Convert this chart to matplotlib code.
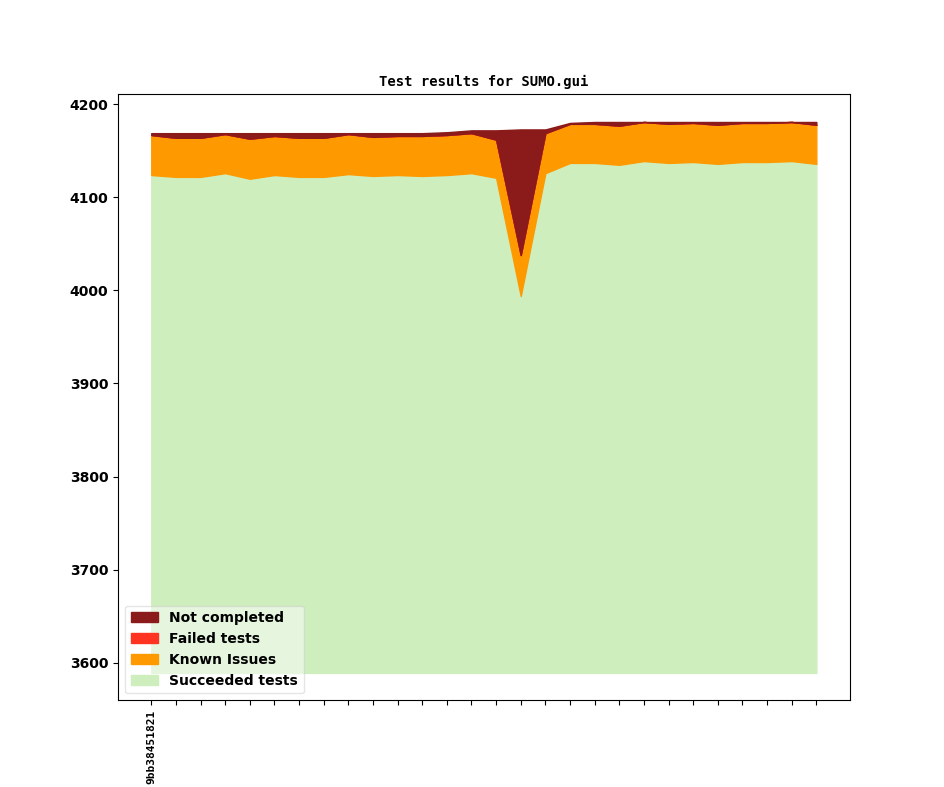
import numpy as np
import matplotlib
matplotlib.use('Agg')
import matplotlib.pyplot as plt

# revisions (only the first one gets a label)
revisions   = ['9bb38451821'] + [''] * 27

# test counts per revision
succeeded   = [4124, 4122, 4122, 4126, 4120, 4124, 4122, 4122, 4125, 4123,
               4124, 4123, 4124, 4126, 4121, 3994, 4126, 4137, 4137, 4135,
               4139, 4137, 4138, 4136, 4138, 4138, 4139, 4136]
known       = [43, 42, 42, 42, 43, 42, 42, 42, 43, 42,
               42, 43, 43, 43, 41, 44, 43, 42, 42, 42,
               42, 42, 42, 42, 42, 42, 42, 42]
failed      = [0] * 28
notdone     = [2, 5, 5, 1, 6, 3, 5, 5, 1, 4,
               3, 3, 3, 3, 10, 135, 4, 1, 2, 4,
               0, 2, 1, 3, 1, 1, 0, 3]
floor       = 3589   # lower edge of the filled area

labels  = ['Succeeded tests', 'Known Issues', 'Failed tests', 'Not completed']
colors  = ['#ceeebe', '#ff9900', '#ff3322', '#8b1a1a']

x = np.arange(len(revisions))
layers = [np.array(succeeded) - floor, np.array(known), np.array(failed), np.array(notdone)]

fig = plt.figure(figsize=(9.44, 7.87), dpi=100)
ax  = fig.add_subplot(111)

bottom = np.full(len(x), floor, dtype=float)
for lay, lab, col in zip(layers, labels, colors) :
	top = bottom + lay
	ax.fill_between(x, bottom, top, color=col, label=lab)
	bottom = top

ax.set_title('Test results for SUMO.gui', family='DejaVu Sans Mono', fontweight='bold', fontsize=10)
ax.set_xticks(x)
ax.set_xticklabels(revisions, rotation=90, family='DejaVu Sans Mono', fontweight='bold', fontsize=8)
for t in ax.get_yticklabels() :
	t.set_fontweight('bold')

handles, labs = ax.get_legend_handles_labels()
ax.legend(handles[::-1], labs[::-1], loc='lower left', framealpha=0.5,
          prop={'weight': 'bold', 'size': 10})

plt.savefig('out.png')
